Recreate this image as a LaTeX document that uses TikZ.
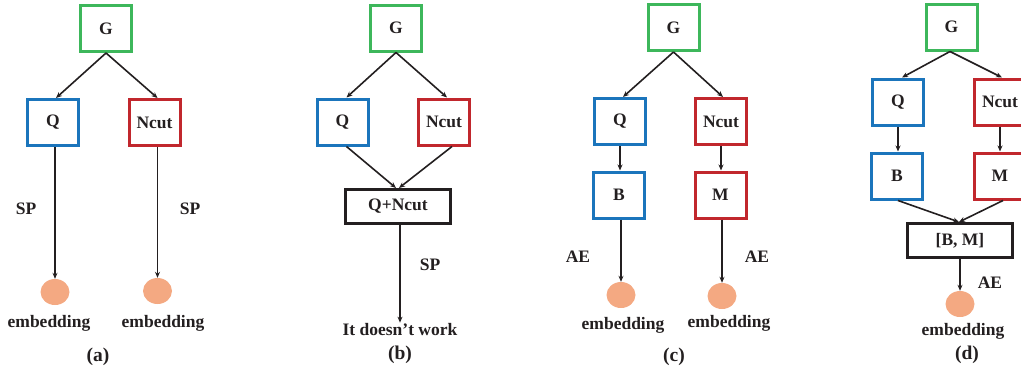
\documentclass[tikz,border=0pt]{standalone}
\usepackage{fontspec}
\setmainfont{Liberation Serif}
\usetikzlibrary{arrows.meta,shapes.geometric}
\definecolor{cgreen}{HTML}{3DB75B}
\definecolor{cblue}{HTML}{1B75BC}
\definecolor{cred}{HTML}{C1272D}
\definecolor{corange}{HTML}{F4A982}
\definecolor{ctext}{HTML}{231F20}
\tikzset{
  box/.style={draw, rectangle, line width=3pt, minimum width=51pt, minimum height=46pt, inner sep=0pt, text=ctext},
  gbox/.style={box, draw=cgreen},
  qbox/.style={box, draw=cblue},
  nbox/.style={box, draw=cred},
  wbox/.style={box, draw=ctext, minimum width=105pt, minimum height=34pt},
  emb/.style={ellipse, fill=corange, minimum width=29pt, minimum height=26pt, inner sep=0pt},
  lbl/.style={text=ctext, inner sep=1pt},
  captxt/.style={lbl, font=\fontsize{19.5}{22}\selectfont\bfseries},
  arr/.style={-{Stealth[length=6pt,width=5pt]}, line width=1.6pt, draw=ctext},
}
\begin{document}
\begin{tikzpicture}[x=1pt,y=-1pt,font=\fontsize{17.5}{20}\selectfont\bfseries]
\useasboundingbox (0,0) rectangle (1021,375);
% (a)
\node[gbox] (aG) at (106,28.5) {G};
\node[qbox] (aQ) at (53,122.5) {Q};
\node[nbox] (aN) at (154.5,122.5) {Ncut};
\node[emb] (ae1) at (55,292) {};
\node[emb] (ae2) at (157.5,291) {};
\node[lbl] (asp1) at (26,209) {SP};
\node[lbl] (asp2) at (190,209) {SP};
\node[lbl] (aem1) at (49,323) {embedding};
\node[lbl] (aem2) at (163,323) {embedding};
\node[captxt] (acap) at (98,357) {(a)};
\draw[arr] (aG.south) -- ([xshift=3pt]aQ.north);
\draw[arr] (aG.south) -- ([xshift=3pt]aN.north);
\draw[arr] (aQ.south -| ae1.north) -- (ae1.north);
\draw[arr] (aN.south -| ae2.north) -- (ae2.north);
% (b)
\node[gbox] (bG) at (396,28) {G};
\node[qbox] (bQ) at (342.5,122) {Q};
\node[nbox] (bN) at (444,122) {Ncut};
\node[wbox] (bQN) at (398,206.5) {Q+Ncut};
\node[lbl] (bwork) at (400,330) {It doesn’t work};
\node[lbl] (bsp) at (430,265) {SP};
\node[captxt] (bcap) at (400,355) {(b)};
\draw[arr] (bG.south) -- ([xshift=4pt]bQ.north);
\draw[arr] (bG.south) -- ([xshift=3pt]bN.north);
\draw[arr] ([xshift=4pt]bQ.south) -- ([xshift=-2pt]bQN.north);
\draw[arr] ([xshift=8pt]bN.south) -- ([xshift=1pt]bQN.north);
\draw[arr] (bQN.south -| bwork.north) -- (bwork.north);
% (c)
\node[gbox] (cG) at (673.5,27.5) {G};
\node[qbox] (cQ) at (620,121.5) {Q};
\node[nbox] (cN) at (721,121.5) {Ncut};
\node[qbox] (cB) at (619,195) {B};
\node[nbox] (cM) at (720.5,195) {M};
\node[emb] (ce1) at (621,295) {};
\node[emb] (ce2) at (722,296) {};
\node[lbl] (cae1) at (578,257) {AE};
\node[lbl] (cae2) at (757,257) {AE};
\node[lbl] (cem1) at (623,325) {embedding};
\node[lbl] (cem2) at (729,323) {embedding};
\node[captxt] (ccap) at (674,357) {(c)};
\draw[arr] (cG.south) -- ([xshift=3pt]cQ.north);
\draw[arr] (cG.south) -- ([xshift=2pt]cN.north);
\draw[arr] (cQ.south) -- (cB.north -| cQ.south);
\draw[arr] (cN.south) -- (cM.north -| cN.south);
\draw[arr] (cB.south -| ce1.north) -- (ce1.north);
\draw[arr] (cM.south -| ce2.north) -- (ce2.north);
% (d)
\node[gbox] (dG) at (951.5,27) {G};
\node[qbox] (dQ) at (898,102) {Q};
\node[nbox] (dN) at (1000,102) {Ncut};
\node[qbox] (dB) at (897,176) {B};
\node[nbox] (dM) at (1000,176) {M};
\node[wbox] (dBM) at (960,240.5) {[B, M]};
\node[emb] (de) at (960,304) {};
\node[lbl] (dae) at (990,283) {AE};
\node[lbl] (dem) at (963,331) {embedding};
\node[captxt] (dcap) at (967,355) {(d)};
\draw[arr] ([xshift=-1.5pt]dG.south) -- ([xshift=4pt]dQ.north);
\draw[arr] ([xshift=-1.5pt]dG.south) -- ([xshift=2pt]dN.north);
\draw[arr] (dQ.south) -- (dB.north -| dQ.south);
\draw[arr] (dN.south) -- (dM.north -| dN.south);
\draw[arr] ([xshift=1pt]dB.south) -- ([xshift=-1pt]dBM.north);
\draw[arr] ([xshift=3pt]dM.south) -- ([xshift=-1pt]dBM.north);
\draw[arr] (dBM.south -| de.north) -- (de.north);
\end{tikzpicture}
\end{document}
